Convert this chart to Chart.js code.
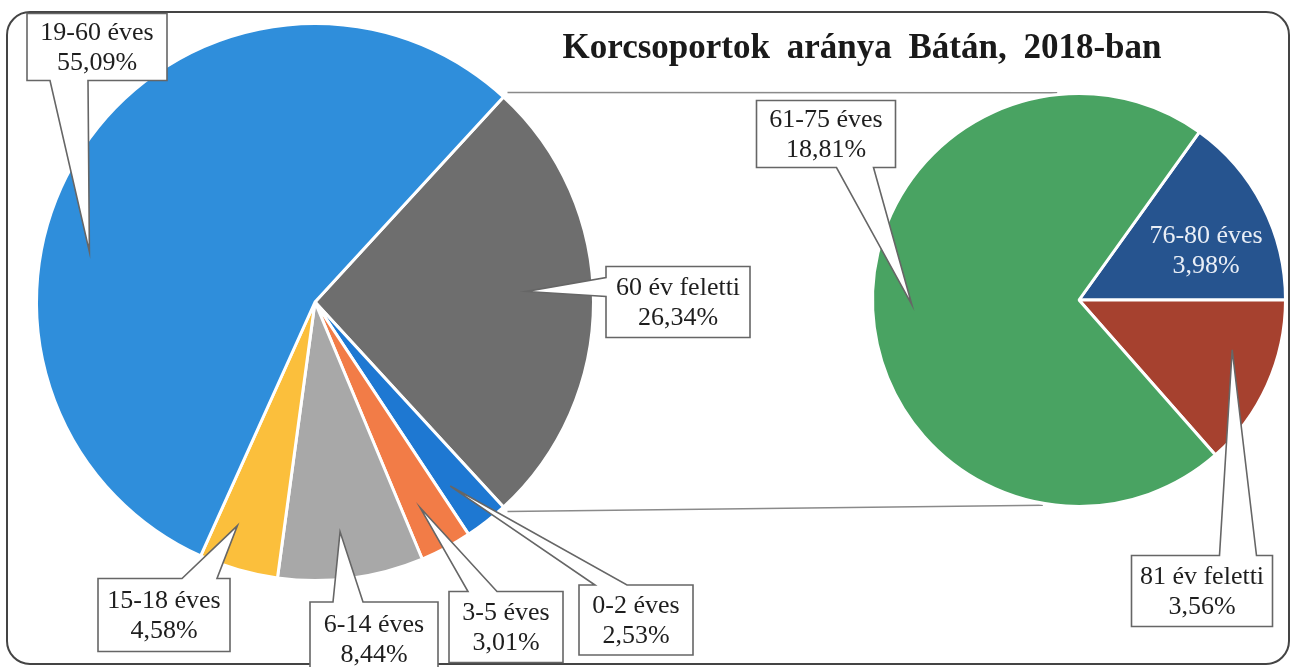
<!DOCTYPE html>
<html>
<head>
<meta charset="utf-8">
<script src="https://cdn.jsdelivr.net/npm/chart.js@4.4.1/dist/chart.umd.min.js"></script>
<style>
  html, body { margin: 0; padding: 0; background: #fff; }
  #wrap { position: relative; width: 1293px; height: 667px; overflow: hidden; background: #fff; }
  #frame { position: absolute; left: 6px; top: 11px; width: 1280px; height: 650px;
           border: 2.5px solid #444; border-radius: 24px; }
  #title { position: absolute; left: 440px; width: 844px; top: 29px; text-align: center;
           font: bold 35px "Liberation Serif", "Times New Roman", serif; line-height: 35px;
           color: #1a1a1a; word-spacing: 8px; white-space: nowrap; }
  canvas { position: absolute; left: 0; top: 0; }
</style>
</head>
<body>
<div id="wrap">
  <div id="frame"></div>
  <canvas id="mainPie" width="1293" height="667"></canvas>
  <canvas id="subPie" width="1293" height="667"></canvas>
  <div id="title">Korcsoportok aránya Bátán, 2018-ban</div>
</div>
<script>
const mainLabels = ['60 év feletti', '0-2 éves', '3-5 éves', '6-14 éves', '15-18 éves', '19-60 éves'];
const mainValues = [26.34, 2.53, 3.01, 8.44, 4.58, 55.09];
const mainColors = ['#6e6e6e', '#1e78d2', '#f27c47', '#a8a8a8', '#fbbf3c', '#2f8edb'];

const subLabels = ['76-80 éves', '81 év feletti', '61-75 éves'];
const subValues = [3.98, 3.56, 18.81];
const subColors = ['#26548f', '#a6412f', '#49a362'];

// callout boxes: dx/dy = box centre from pie centre, w/h = box size,
// side + a/b = where the pointer leaves the box, t/r = pointer tip inside the slice
const mainCallouts = [
  { dx: 363, dy: 0, w: 144, h: 71, side: 'left', a: 11, b: 30, t: 0.47, r: 0.76 },
  { dx: 321, dy: 318, w: 114, h: 70, side: 'top', a: 16, b: 48, t: 0.69, r: 0.82 },
  { dx: 191, dy: 325, w: 114, h: 71, side: 'top', a: 19, b: 48, t: 0.59, r: 0.83 },
  { dx: 59, dy: 337, w: 128, h: 74, side: 'top', a: 23, b: 53, t: 0.54, r: 0.83 },
  { dx: -151, dy: 313, w: 132, h: 73, side: 'top', a: 84, b: 119, t: 0.69, r: 0.85 },
  { dx: -218, dy: -255, w: 140, h: 67, side: 'bottom', a: 23, b: 61, t: 0.395, r: 0.83 }
];
const subCallouts = [
  { inside: true, t: 0.61, r: 0.66 },
  { dx: 123, dy: 291, w: 141, h: 71, side: 'top', a: 88, b: 125, t: 0.37, r: 0.78 },
  { dx: -253, dy: -166, w: 139, h: 67, side: 'bottom', a: 80, b: 117, t: 0.505, r: 0.81 }
];

const labelFont = '26px "Liberation Serif", "Times New Roman", serif';

function pct(v) {
  return v.toFixed(2).replace('.', ',') + '%';
}

function sum(arr) {
  return arr.reduce((a, b) => a + b, 0);
}

function slicePoint(arc, t, r) {
  const p = arc.getProps(['x', 'y', 'startAngle', 'endAngle', 'outerRadius'], true);
  const ang = p.startAngle + t * (p.endAngle - p.startAngle);
  return { x: p.x + Math.cos(ang) * p.outerRadius * r, y: p.y + Math.sin(ang) * p.outerRadius * r };
}

function drawCallout(ctx, c, cx, cy, tip, lines) {
  const L = cx + c.dx - c.w / 2, T = cy + c.dy - c.h / 2, R = L + c.w, B = T + c.h;
  ctx.save();
  ctx.beginPath();
  ctx.moveTo(L, T);
  if (c.side === 'top') { ctx.lineTo(L + c.a, T); ctx.lineTo(tip.x, tip.y); ctx.lineTo(L + c.b, T); }
  ctx.lineTo(R, T);
  ctx.lineTo(R, B);
  if (c.side === 'bottom') { ctx.lineTo(L + c.b, B); ctx.lineTo(tip.x, tip.y); ctx.lineTo(L + c.a, B); }
  ctx.lineTo(L, B);
  if (c.side === 'left') { ctx.lineTo(L, T + c.b); ctx.lineTo(tip.x, tip.y); ctx.lineTo(L, T + c.a); }
  ctx.closePath();
  ctx.fillStyle = '#ffffff';
  ctx.fill();
  ctx.lineWidth = 1.6;
  ctx.strokeStyle = '#666';
  ctx.stroke();
  ctx.fillStyle = '#1e1e1e';
  ctx.font = labelFont;
  ctx.textAlign = 'center';
  ctx.textBaseline = 'middle';
  ctx.fillText(lines[0], cx + c.dx, cy + c.dy - 14);
  ctx.fillText(lines[1], cx + c.dx, cy + c.dy + 16);
  ctx.restore();
}

function calloutPlugin(callouts, labels, values) {
  return {
    id: 'callouts',
    afterDatasetsDraw(chart) {
      const ctx = chart.ctx;
      const arcs = chart.getDatasetMeta(0).data;
      arcs.forEach((arc, i) => {
        const c = callouts[i];
        const lines = [labels[i], pct(values[i])];
        const p = slicePoint(arc, c.t, c.r);
        if (c.inside) {
          ctx.save();
          ctx.fillStyle = '#e9eef6';
          ctx.font = labelFont;
          ctx.textAlign = 'center';
          ctx.textBaseline = 'middle';
          ctx.fillText(lines[0], p.x, p.y - 15);
          ctx.fillText(lines[1], p.x, p.y + 15);
          ctx.restore();
        } else {
          drawCallout(ctx, c, arc.x, arc.y, p, lines);
        }
      });
    }
  };
}

// lines joining the split slice of the main pie to the second pie
const connectorPlugin = {
  id: 'connectors',
  beforeDatasetsDraw(chart) {
    const first = mainChart.getDatasetMeta(0).data[0];
    const a = first.getProps(['x', 'y', 'startAngle', 'endAngle', 'outerRadius'], true);
    const sub = chart.getDatasetMeta(0).data[0].getProps(['x', 'y', 'outerRadius'], true);
    const ctx = chart.ctx;
    const ends = [[a.startAngle, -96], [a.endAngle, 100]];
    ctx.save();
    ctx.strokeStyle = '#8a8a8a';
    ctx.lineWidth = 1.5;
    ends.forEach(([ang, deg]) => {
      const r2 = deg * Math.PI / 180;
      ctx.beginPath();
      ctx.moveTo(a.x + Math.cos(ang) * (a.outerRadius + 6), a.y + Math.sin(ang) * (a.outerRadius + 6));
      ctx.lineTo(sub.x + Math.cos(r2) * (sub.outerRadius + 2), sub.y + Math.sin(r2) * (sub.outerRadius + 2));
      ctx.stroke();
    });
    ctx.restore();
  }
};

const baseOptions = {
  responsive: false,
  animation: false,
  plugins: { legend: { display: false }, tooltip: { enabled: false }, title: { display: false } }
};

const mainChart = new Chart(document.getElementById('mainPie').getContext('2d'), {
  type: 'pie',
  data: {
    labels: mainLabels,
    datasets: [{ data: mainValues, backgroundColor: mainColors, borderColor: '#ffffff', borderWidth: 3 }]
  },
  options: Object.assign({}, baseOptions, {
    rotation: 90 - mainValues[0] / sum(mainValues) * 180,
    layout: { padding: { left: 35, top: 22, right: 698, bottom: 85 } }
  }),
  plugins: [calloutPlugin(mainCallouts, mainLabels, mainValues)]
});

const subChart = new Chart(document.getElementById('subPie').getContext('2d'), {
  type: 'pie',
  data: {
    labels: subLabels,
    datasets: [{ data: subValues, backgroundColor: subColors, borderColor: '#ffffff', borderWidth: 3 }]
  },
  options: Object.assign({}, baseOptions, {
    rotation: 90 - subValues[0] / sum(subValues) * 360,
    layout: { padding: { left: 871, top: 92, right: 6, bottom: 159 } }
  }),
  plugins: [connectorPlugin, calloutPlugin(subCallouts, subLabels, subValues)]
});
</script>
</body>
</html>
